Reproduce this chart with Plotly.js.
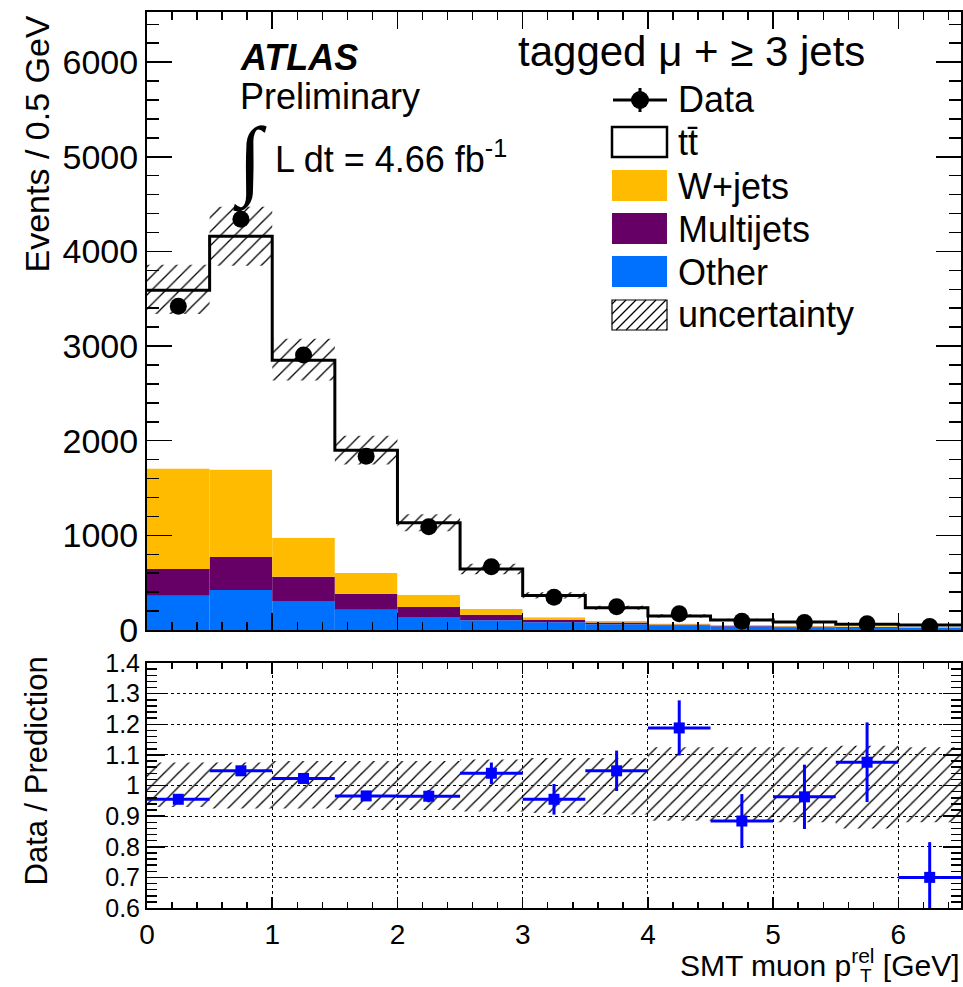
<!DOCTYPE html>
<html><head><meta charset="utf-8">
<script src="https://cdn.plot.ly/plotly-3.0.1.min.js"></script>
<style>html,body{margin:0;padding:0;background:#fff}</style>
</head><body><div id="chart" style="width:963px;height:987px"></div>
<script>
// ---- data ----
const binWidth = 0.5;
const binEdges = [0,0.5,1,1.5,2,2.5,3,3.5,4,4.5,5,5.5,6,6.5];
const binCenters = [0.25,0.75,1.25,1.75,2.25,2.75,3.25,3.75,4.25,4.75,5.25,5.75,6.25];
const otherVals    = [362,422,306,215,137,102,81,62,47,37,30,25,20];
const multijetVals = [282,349,257,169,106,60,25,16,11,7,6,8,7];
const wjetsVals    = [1063,926,412,218,130,60,28,17,10,8,6,7,3];
const ttbarVals    = [1883,2463,1875,1298,760,422,231,141,80,54,42,20,23];
const dataVals     = [3420,4340,2905,1835,1090,668,345,246,172,92,79,67,36];
const ratioVals = [0.955,1.048,1.023,0.966,0.965,1.040,0.955,1.048,1.188,0.884,0.963,1.076,0.700];
const ratioErr  = [0.010,0.012,0.012,0.015,0.020,0.035,0.050,0.066,0.090,0.088,0.105,0.130,0.115];
const bandLow   = [0.930,0.925,0.925,0.920,0.920,0.915,0.910,0.905,0.885,0.885,0.880,0.860,0.880];
const bandHigh  = [1.075,1.075,1.080,1.080,1.080,1.085,1.090,1.090,1.125,1.125,1.125,1.130,1.125];
const yTitleTop = 'Events / 0.5 GeV';
const yTitleBottom = 'Data / Prediction';

// ---- derived stack bases ----
const base1 = otherVals.map((v,i)=>v);
const base2 = base1.map((v,i)=>v+multijetVals[i]);
const base3 = base2.map((v,i)=>v+wjetsVals[i]);
const total = base3.map((v,i)=>v+ttbarVals[i]);
const zeros = otherVals.map(()=>0);
const stepY = total.concat([total[total.length-1]]);
const widths = binCenters.map(()=>binWidth);
const halfW = binCenters.map(()=>binWidth/2);

const FONT = 'Liberation Sans, Arial, Helvetica, sans-serif';
const hatch = {shape:'/', fgcolor:'#000', bgcolor:'rgba(0,0,0,0)', fgopacity:1, size:10, solidity:0.13, fillmode:'replace'};

const traces = [
  {type:'bar', x:binCenters, y:otherVals, base:zeros, width:widths, marker:{color:'#0070ff', line:{width:0}}, xaxis:'x', yaxis:'y', hoverinfo:'skip'},
  {type:'bar', x:binCenters, y:multijetVals, base:base1, width:widths, marker:{color:'#660066', line:{width:0}}, xaxis:'x', yaxis:'y', hoverinfo:'skip'},
  {type:'bar', x:binCenters, y:wjetsVals, base:base2, width:widths, marker:{color:'#ffbb00', line:{width:0}}, xaxis:'x', yaxis:'y', hoverinfo:'skip'},
  {type:'bar', x:binCenters, y:ttbarVals, base:base3, width:widths, marker:{color:'#ffffff', line:{width:0}}, xaxis:'x', yaxis:'y', hoverinfo:'skip'},
  {type:'bar', x:binCenters, y:total.map((t,i)=>t*(bandHigh[i]-bandLow[i])), base:total.map((t,i)=>t*bandLow[i]), width:widths,
    marker:{color:'rgba(0,0,0,0)', line:{width:0}, pattern:hatch}, xaxis:'x', yaxis:'y', hoverinfo:'skip'},
  {type:'scatter', mode:'lines', x:binEdges, y:stepY, line:{shape:'hv', color:'#000', width:3}, xaxis:'x', yaxis:'y', hoverinfo:'skip'},
  {type:'scatter', mode:'markers', x:binCenters, y:dataVals, marker:{symbol:'circle', size:17, color:'#000'}, xaxis:'x', yaxis:'y', hoverinfo:'skip'},
  {type:'bar', x:binCenters, y:bandHigh.map((h,i)=>h-bandLow[i]), base:bandLow, width:widths,
    marker:{color:'rgba(0,0,0,0)', line:{width:0}, pattern:hatch}, xaxis:'x2', yaxis:'y2', hoverinfo:'skip'},
  {type:'scatter', mode:'markers', x:binCenters, y:ratioVals, marker:{symbol:'square', size:11, color:'#0000ff'},
    error_x:{type:'data', array:halfW, color:'#0000ff', thickness:3, width:0},
    error_y:{type:'data', array:ratioErr, color:'#0000ff', thickness:3, width:0},
    xaxis:'x2', yaxis:'y2', hoverinfo:'skip'}
];

// pixel -> paper helpers
const L=147, R=961, T=12, B=908;
const W=R-L, H=B-T;
const px = v=>(v-L)/W, py = v=>(B-v)/H;

const annotations = [];
function ann(text, x, y, size, o){
  annotations.push(Object.assign({text:text, x:px(x), y:py(y), xref:'paper', yref:'paper', showarrow:false,
    xanchor:'left', yanchor:'middle', font:{family:FONT, size:size, color:'#000'}}, o||{}));
}
ann('<b><i>ATLAS</i></b>', 238, 57, 36);
ann('Preliminary', 238, 97, 36);
ann('\u222B', 250, 161, 88, {xanchor:'center', font:{family:'Liberation Serif, DejaVu Serif, serif', size:88, color:'#000'}});
ann('L dt = 4.66 fb<sup>-1</sup>', 273, 157, 36);
ann('tagged \u03BC + \u2265 3 jets', 516, 52, 42);
ann('Data', 676, 100, 36);
ann('tt\u0304', 676, 143, 36);
ann('W+jets', 676, 186, 36);
ann('Multijets', 676, 229, 36);
ann('Other', 676, 272, 36);
ann('uncertainty', 676, 314, 36);
ann(yTitleTop, 36, 14, 34, {textangle:-90, xanchor:'center', yanchor:'top'});
ann(yTitleBottom, 36, 655, 31, {textangle:-90, xanchor:'center', yanchor:'top'});
ann('SMT muon p<sup>rel</sup> [GeV]', 962, 963, 30, {xanchor:'right'});
ann('T', 866, 975, 19, {xanchor:'center'});

const shapes = [];
function rectPx(x0,y0,x1,y1,fill,lw){
  shapes.push({type:'rect', xref:'paper', yref:'paper', x0:px(x0), x1:px(x1), y0:py(y1), y1:py(y0),
    fillcolor:fill, line:{color:'#000', width:lw}});
}
function linePx(x0,y0,x1,y1,lw){
  shapes.push({type:'line', xref:'paper', yref:'paper', x0:px(x0), x1:px(x1), y0:py(y0), y1:py(y1), line:{color:'#000', width:lw}});
}
// legend swatches
linePx(613,100,667,100,3);
linePx(640,88,640,112,3);
shapes.push({type:'circle', xref:'paper', yref:'paper', x0:px(631), x1:px(649), y0:py(109), y1:py(91), fillcolor:'#000', line:{width:0}});
rectPx(612,127,667,157,'#fff',2.5);
rectPx(612,170,667,201,'#ffbb00',0);
rectPx(612,213,667,244,'#660066',0);
rectPx(612,256,667,287,'#0070ff',0);
rectPx(612,300,667,330,'rgba(0,0,0,0)',1.2);
(function(){
  const x0=612,y0=300,x1=667,y1=330,s=10;
  for(let c=x0+y0+4;c<x1+y1;c+=s){
    const xs=Math.max(x0,c-y1), xe=Math.min(x1,c-y0);
    if(xe>xs) linePx(xs,c-xs,xe,c-xe,1.2);
  }
})();

const axBase = {showline:true, linewidth:2, linecolor:'#000', mirror:'ticks', ticks:'inside', tickcolor:'#000', tickwidth:1.5,
  zeroline:false, fixedrange:true, tickfont:{family:FONT, size:34, color:'#000'}};
const layout = {
  width:963, height:987, margin:{l:L, r:963-R, t:T, b:987-B}, paper_bgcolor:'#fff', plot_bgcolor:'#fff',
  showlegend:false, barmode:'overlay', font:{family:FONT, color:'#000'},
  xaxis:Object.assign({}, axBase, {domain:[0,1], anchor:'y', range:[0,6.5], dtick:1, tick0:0, ticklen:17, showticklabels:false, showgrid:false,
    minor:{ticks:'inside', ticklen:8, dtick:0.2, tick0:0, tickwidth:1.5, tickcolor:'#000', showgrid:false}}),
  yaxis:Object.assign({}, axBase, {domain:[(B-630)/H,1], anchor:'x', range:[0,6530], dtick:1000, tick0:0, ticklen:25, showgrid:false,
    minor:{ticks:'inside', ticklen:12, dtick:200, tick0:0, tickwidth:1.5, tickcolor:'#000', showgrid:false}}),
  xaxis2:Object.assign({}, axBase, {domain:[0,1], anchor:'y2', range:[0,6.5], dtick:1, tick0:0, ticklen:11,
    showgrid:true, gridcolor:'#000', griddash:'dot', gridwidth:1, tickfont:{family:FONT, size:28, color:'#000'},
    minor:{ticks:'inside', ticklen:6, dtick:0.2, tick0:0, tickwidth:1.5, tickcolor:'#000', showgrid:false}}),
  yaxis2:Object.assign({}, axBase, {domain:[0,(B-663)/H], anchor:'x2', range:[0.6,1.4], dtick:0.1, tick0:0.6, ticklen:18,
    showgrid:true, gridcolor:'#000', griddash:'dot', gridwidth:1, tickfont:{family:FONT, size:25, color:'#000'},
    minor:{ticks:'inside', ticklen:10, dtick:0.02, tick0:0.6, tickwidth:1.5, tickcolor:'#000', showgrid:false}}),
  annotations:annotations, shapes:shapes
};
Plotly.newPlot('chart', traces, layout, {staticPlot:true, displayModeBar:false});
</script></body></html>
